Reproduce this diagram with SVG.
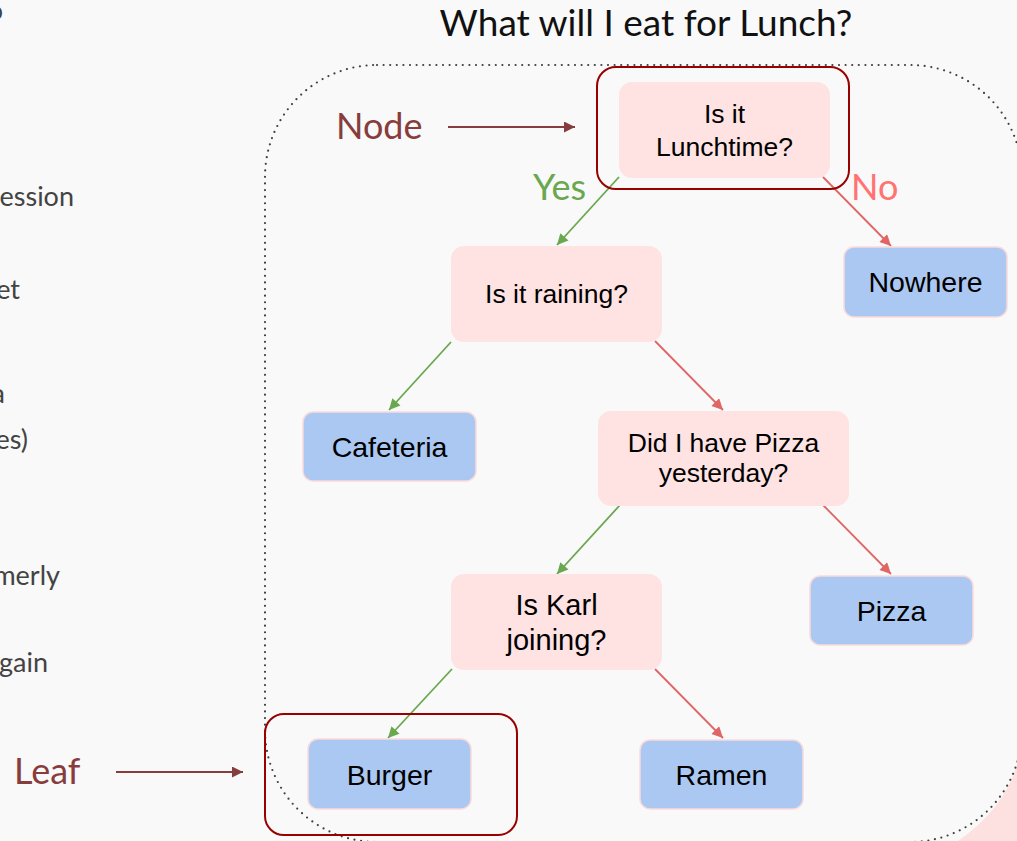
<svg xmlns="http://www.w3.org/2000/svg" width="1017" height="841" viewBox="0 0 1017 841">
  <defs>
    <style>
      .frag { font-family: Lato, "Noto Sans", sans-serif; font-size: 27px; fill: #434343; }
      .title { font-family: Lato, "Noto Sans", sans-serif; font-size: 37px; fill: #111111; }
      .callout { font-family: Lato, "Noto Sans", sans-serif; font-size: 36px; fill: #873d3d; }
      .yes { font-family: Lato, "Noto Sans", sans-serif; font-size: 36px; fill: #6aa84f; }
      .no { font-family: Lato, "Noto Sans", sans-serif; font-size: 36px; fill: #ff7373; }
      .q rect { fill: #ffe3e3; }
      .leaf rect { fill: #abc8f3; stroke: #fcdada; stroke-width: 1.5; }
      .q text, .leaf text { font-family: "Liberation Sans", Arial, sans-serif; fill: #000000; text-anchor: middle; }
      .q text { font-size: 26.5px; }
      .leaf text { font-size: 28.5px; }
      .hl { fill: none; stroke: #990000; stroke-width: 2; }
      .e-yes { stroke: #6aa84f; stroke-width: 1.8; fill: none; marker-end: url(#ah-green); }
      .e-no { stroke: #e06666; stroke-width: 1.8; fill: none; marker-end: url(#ah-red); }
      .e-call { stroke: #873d3d; stroke-width: 2; fill: none; marker-end: url(#ah-dark); }
    </style>
    <marker id="ah-green" viewBox="0 0 10 10" refX="10" refY="5" markerWidth="13" markerHeight="11" markerUnits="userSpaceOnUse" orient="auto">
      <path d="M0,0 L10,5 L0,10 z" fill="#6aa84f"/>
    </marker>
    <marker id="ah-red" viewBox="0 0 10 10" refX="10" refY="5" markerWidth="13" markerHeight="11" markerUnits="userSpaceOnUse" orient="auto">
      <path d="M0,0 L10,5 L0,10 z" fill="#e06666"/>
    </marker>
    <marker id="ah-dark" viewBox="0 0 10 10" refX="10" refY="5" markerWidth="13" markerHeight="11" markerUnits="userSpaceOnUse" orient="auto">
      <path d="M0,0 L10,5 L0,10 z" fill="#873d3d"/>
    </marker>
  </defs>

  <!-- page background -->
  <rect x="0" y="0" width="1017" height="841" fill="#f9f9f9"/>

  <!-- decorative corner shape -->
  <path d="M1017 765 Q1003 810 958 841 L1017 841 Z" fill="#fde0e0"/>

  <!-- clipped text from the adjacent column -->
  <g id="side-text">
    <text class="frag" x="3" y="20" text-anchor="end">o</text>
    <text class="frag" x="74" y="206" text-anchor="end">ession</text>
    <text class="frag" x="20" y="299" text-anchor="end">et</text>
    <text class="frag" x="5" y="403" text-anchor="end">a</text>
    <text class="frag" x="28" y="449" text-anchor="end">es)</text>
    <text class="frag" x="60" y="585" text-anchor="end">merly</text>
    <text class="frag" x="48" y="672" text-anchor="end">gain</text>
  </g>

  <text class="title" x="646" y="36" text-anchor="middle">What will I eat for Lunch?</text>

  <!-- dotted frame around the tree -->
  <path d="M377 65 H910 A112 112 0 0 1 1022 177 V730 A112 112 0 0 1 910 842 H377 A112 112 0 0 1 265 730 V177 A112 112 0 0 1 377 65 Z"
        fill="none" stroke="#404040" stroke-width="2.2" stroke-linecap="round" stroke-dasharray="0 6.6"/>

  <!-- connectors -->
  <g id="connectors">
    <line class="e-yes" x1="619" y1="177" x2="557" y2="245"/>
    <line class="e-no" x1="823" y1="177" x2="891" y2="246"/>
    <line class="e-yes" x1="451" y1="342" x2="389" y2="410"/>
    <line class="e-no" x1="655" y1="341" x2="723" y2="410"/>
    <line class="e-yes" x1="620" y1="505" x2="557" y2="574"/>
    <line class="e-no" x1="823" y1="505" x2="891" y2="574"/>
    <line class="e-yes" x1="452" y1="669" x2="388" y2="738"/>
    <line class="e-no" x1="655" y1="669" x2="723" y2="738"/>
    <line class="e-call" x1="448" y1="127" x2="575" y2="127"/>
    <line class="e-call" x1="116" y1="772" x2="243" y2="772"/>
  </g>

  <!-- branch labels -->
  <text class="yes" x="533" y="200">Yes</text>
  <text class="no" x="851" y="200">No</text>

  <!-- callouts -->
  <text class="callout" x="336" y="139">Node</text>
  <text class="callout" x="14" y="784">Leaf</text>

  <!-- decision nodes -->
  <g id="n-lunchtime" class="q">
    <rect x="619" y="82" width="211" height="96" rx="13"/>
    <text x="724.5" y="123">Is it</text>
    <text x="724.5" y="156">Lunchtime?</text>
  </g>
  <g id="n-raining" class="q">
    <rect x="451" y="246" width="211" height="96" rx="13"/>
    <text x="556.5" y="303">Is it raining?</text>
  </g>
  <g id="n-pizza-yesterday" class="q">
    <rect x="598" y="411" width="251" height="95" rx="13"/>
    <text x="723.5" y="452">Did I have Pizza</text>
    <text x="723.5" y="482">yesterday?</text>
  </g>
  <g id="n-karl" class="q">
    <rect x="451" y="574" width="211" height="96" rx="13"/>
    <text x="556.5" y="615" style="font-size:29px">Is Karl</text>
    <text x="556.5" y="650" style="font-size:29px">joining?</text>
  </g>

  <!-- outcomes -->
  <g id="n-nowhere" class="leaf">
    <rect x="844" y="247" width="163" height="70" rx="10"/>
    <text x="925.5" y="292">Nowhere</text>
  </g>
  <g id="n-cafeteria" class="leaf">
    <rect x="303" y="412" width="173" height="69" rx="10"/>
    <text x="389.5" y="457">Cafeteria</text>
  </g>
  <g id="n-pizza" class="leaf">
    <rect x="810" y="576" width="163" height="69" rx="10"/>
    <text x="891.5" y="621">Pizza</text>
  </g>
  <g id="n-burger" class="leaf">
    <rect x="308" y="739" width="163" height="70" rx="10"/>
    <text x="389.5" y="785">Burger</text>
  </g>
  <g id="n-ramen" class="leaf">
    <rect x="640" y="740" width="163" height="69" rx="10"/>
    <text x="721.5" y="785">Ramen</text>
  </g>

  <!-- highlight outlines -->
  <rect class="hl" x="597" y="67" width="252" height="122" rx="19"/>
  <rect class="hl" x="265" y="714" width="252" height="121" rx="19"/>
</svg>
